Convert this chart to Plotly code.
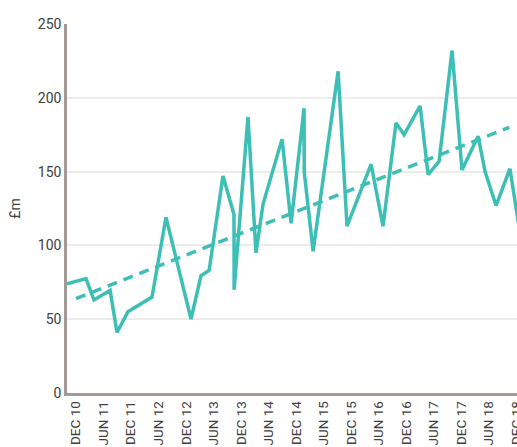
import plotly.graph_objects as go

# Data (£m)
dates = [
    "2010-10-02", "2011-02-05", "2011-03-30", "2011-07-15", "2011-08-30",
    "2011-11-10", "2012-04-18", "2012-07-20", "2013-01-02", "2013-03-09",
    "2013-05-02", "2013-08-02", "2013-10-14", "2013-10-15", "2014-01-15",
    "2014-03-09", "2014-04-25", "2014-08-29", "2014-10-28", "2015-01-22",
    "2015-01-23", "2015-03-23", "2015-09-05", "2015-11-03", "2016-04-11",
    "2016-06-29", "2016-09-23", "2016-11-16", "2017-03-02", "2017-04-24",
    "2017-07-06", "2017-09-30", "2017-12-05", "2018-03-22", "2018-05-07",
    "2018-07-19", "2018-10-19", "2018-12-15",
]
values = [
    74, 77.5, 63, 69.5, 41,
    55, 65, 119, 50, 79.5,
    83, 147, 121, 70, 187,
    95, 128, 172, 115, 193,
    150, 96, 218, 113, 155,
    113, 183, 175, 194.5, 148,
    157, 232, 151, 174, 150,
    127, 152, 115,
]

trend_dates = ["2010-12-01", "2018-10-15"]
trend_values = [64, 180]

tick_dates = [
    "2010-12-01", "2011-06-01", "2011-12-01", "2012-06-01", "2012-12-01",
    "2013-06-01", "2013-12-01", "2014-06-01", "2014-12-01", "2015-06-01",
    "2015-12-01", "2016-06-01", "2016-12-01", "2017-06-01", "2017-12-01",
    "2018-06-01", "2018-12-01",
]
tick_labels = [
    "DEC 10", "JUN 11", "DEC 11", "JUN 12", "DEC 12", "JUN 13", "DEC 13",
    "JUN 14", "DEC 14", "JUN 15", "DEC 15", "JUN 16", "DEC 16", "JUN 17",
    "DEC 17", "JUN 18", "DEC 18",
]
y_ticks = [0, 50, 100, 150, 200, 250]

teal = "#3dbfb5"

fig = go.Figure()
fig.add_trace(go.Scatter(
    x=dates, y=values, mode="lines",
    line=dict(color=teal, width=3.5),
    hoverinfo="skip", showlegend=False,
))
fig.add_trace(go.Scatter(
    x=trend_dates, y=trend_values, mode="lines",
    line=dict(color=teal, width=3.5, dash="10px,7px"),
    hoverinfo="skip", showlegend=False,
))

fig.update_layout(
    width=517, height=447,
    margin=dict(l=67, r=0, t=24, b=54),
    paper_bgcolor="white", plot_bgcolor="white",
    font=dict(family="Roboto, 'Open Sans', sans-serif", color="#404040", size=14),
    xaxis=dict(
        type="date",
        range=["2010-10-02", "2018-12-05"],
        tickmode="array", tickvals=tick_dates, ticktext=tick_labels,
        tickangle=-90, tickfont=dict(size=13.5, color="#404040"),
        ticklabeloverflow="allow",
        showgrid=False, zeroline=False,
        showline=True, linecolor="#a39a96", linewidth=2.5,
        ticks="", ticklen=0, automargin=False,
    ),
    yaxis=dict(
        range=[0, 250],
        tickmode="array", tickvals=y_ticks,
        tickfont=dict(size=14, color="#404040"),
        showgrid=True, gridcolor="#eeece8", gridwidth=2,
        zeroline=False,
        showline=True, linecolor="#a39a96", linewidth=2.5,
        ticks="", ticklen=0, automargin=False,
        title=dict(text="£m", font=dict(size=14, color="#404040"), standoff=14),
    ),
)

fig.write_html(
    "out.html",
    config={"displayModeBar": False},
    post_script="document.body.style.margin='0';document.body.style.overflow='hidden';",
)
